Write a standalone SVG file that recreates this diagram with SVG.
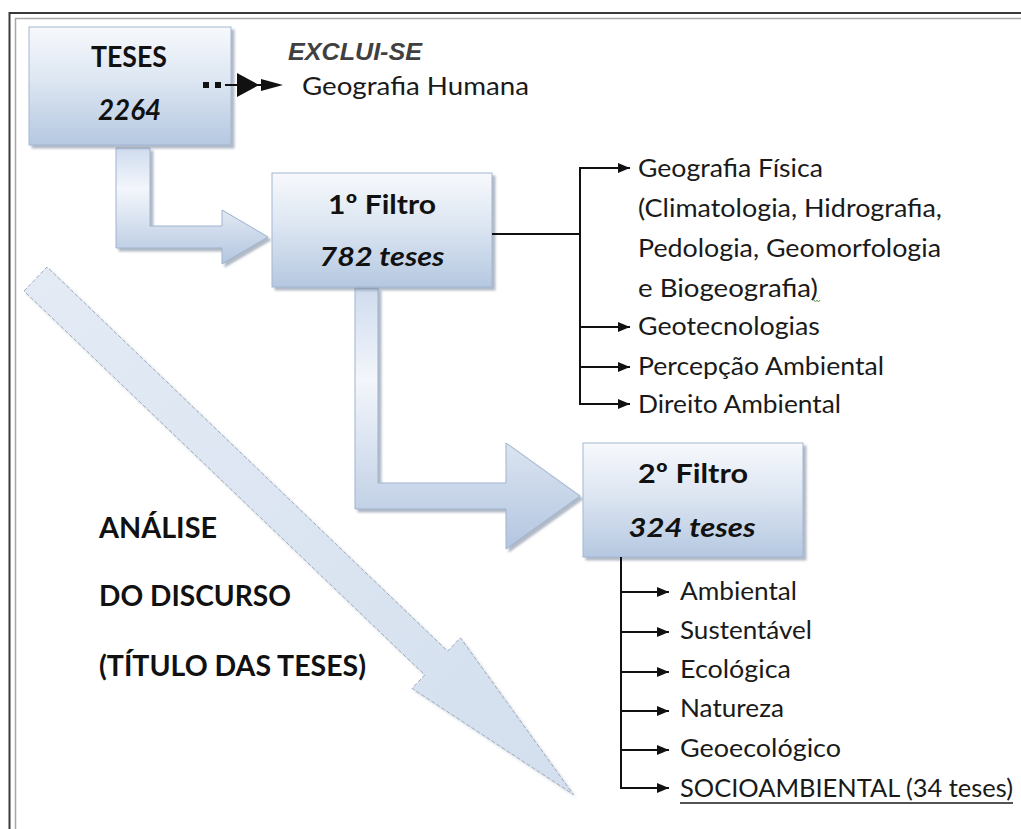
<svg xmlns="http://www.w3.org/2000/svg" width="1021" height="829" viewBox="0 0 1021 829">
  <defs>
    <linearGradient id="boxFill" x1="0" y1="0" x2="0" y2="1">
      <stop offset="0" stop-color="#f7f9fc"/>
      <stop offset="0.45" stop-color="#dde6f2"/>
      <stop offset="1" stop-color="#b5c8e1"/>
    </linearGradient>
    <linearGradient id="bentFill" x1="0" y1="0" x2="0" y2="1">
      <stop offset="0" stop-color="#cfdcee"/>
      <stop offset="0.35" stop-color="#f3f6fb"/>
      <stop offset="1" stop-color="#b3c6e0"/>
    </linearGradient>
    <linearGradient id="diagFill" x1="0" y1="0" x2="1" y2="1">
      <stop offset="0" stop-color="#e4ebf5"/>
      <stop offset="1" stop-color="#d3dfee"/>
    </linearGradient>
    <filter id="shadow" x="-10%" y="-10%" width="130%" height="130%">
      <feDropShadow dx="3" dy="3" stdDeviation="1.2" flood-color="#6f7f96" flood-opacity="0.55"/>
    </filter>
    <filter id="softShadow" x="-10%" y="-10%" width="130%" height="130%">
      <feDropShadow dx="2" dy="2" stdDeviation="1.5" flood-color="#8b98aa" flood-opacity="0.4"/>
    </filter>
    <marker id="tri" viewBox="0 0 12 10" refX="12" refY="5" markerWidth="12" markerHeight="10" markerUnits="userSpaceOnUse" orient="auto">
      <path d="M0,0 L12,5 L0,10 Z" fill="#111"/>
    </marker>
  </defs>
  <style>
    .box { fill: url(#boxFill); stroke: #a3b7d2; stroke-width: 1; filter: url(#shadow); }
    .bent { fill: url(#bentFill); stroke: #9fb3ce; stroke-width: 1; filter: url(#shadow); }
    .title { font-family: Lato, "Liberation Sans", sans-serif; font-weight: 700; fill: #111; }
    .count { font-family: Lato, "Liberation Sans", sans-serif; font-weight: 700; font-style: italic; fill: #111; }
    .item { font-family: Lato, "Liberation Sans", sans-serif; font-size: 25px; fill: #1a1a1a; }
    .label { font-family: Lato, "Liberation Sans", sans-serif; font-weight: 700; font-size: 28px; fill: #111; }
    .wire { stroke: #111; stroke-width: 2; fill: none; }
    .tip { stroke: #111; stroke-width: 2; fill: none; marker-end: url(#tri); }
  </style>

  <rect width="1021" height="829" fill="#ffffff"/>

  <!-- page frame (double rule, open to the right and bottom) -->
  <g id="frame" fill="none">
    <path d="M9.5,829 V13 H1021" stroke="#3a3a3a" stroke-width="2"/>
    <path d="M15.5,829 V18.5 H1021" stroke="#a8a8a8" stroke-width="1.5"/>
  </g>

  <!-- large diagonal arrow -->
  <g id="analise-arrow">
    <path d="M24,291 L47,267 L447.6,651.2 L460.4,637.8 L573.4,794.5 L412,688.4 L424.8,675 Z"
          fill="url(#diagFill)" stroke="#9eaabb" stroke-width="1" stroke-dasharray="4 2" filter="url(#softShadow)"/>
  </g>

  <!-- block arrows between stages -->
  <g id="bent-arrows">
    <path class="bent" d="M116,148 V248 H222 V264 L268,237 L222,210 V226 H150 V148 Z"/>
    <path class="bent" d="M355,288 V509 H506 V549 L580,496 L506,443 V483 H378 V288 Z"/>
  </g>

  <!-- stage boxes -->
  <g id="teses">
    <rect class="box" x="29" y="27" width="202" height="118"/>
    <text class="title" x="129" y="67" font-size="29" text-anchor="middle" textLength="76" lengthAdjust="spacingAndGlyphs">TESES</text>
    <text class="count" x="129.5" y="120" font-size="29" text-anchor="middle" textLength="63" lengthAdjust="spacingAndGlyphs">2264</text>
  </g>

  <g id="filtro1">
    <rect class="box" x="272" y="173" width="220" height="114"/>
    <text class="title" x="382" y="214" font-size="27" text-anchor="middle" textLength="108" lengthAdjust="spacingAndGlyphs">1º Filtro</text>
    <text class="count" x="382" y="266" font-size="27" text-anchor="middle" textLength="125" lengthAdjust="spacingAndGlyphs">782 teses</text>
  </g>

  <g id="filtro2">
    <rect class="box" x="583" y="443" width="220" height="114"/>
    <text class="title" x="693" y="483" font-size="27" text-anchor="middle" textLength="110" lengthAdjust="spacingAndGlyphs">2º Filtro</text>
    <text class="count" x="692" y="537" font-size="27" text-anchor="middle" textLength="127" lengthAdjust="spacingAndGlyphs">324 teses</text>
  </g>

  <!-- excluded branch -->
  <g id="excluido">
    <text x="288" y="60" font-family="'Liberation Sans', Arial, sans-serif" font-weight="700" font-style="italic" font-size="23" fill="#404040" textLength="134" lengthAdjust="spacingAndGlyphs">EXCLUI-SE</text>
    <text x="302" y="95" font-family="Lato, 'Liberation Sans', sans-serif" font-size="25" fill="#1a1a1a" textLength="227" lengthAdjust="spacingAndGlyphs">Geografia Humana</text>
  </g>

  <!-- connectors -->
  <g id="connectors">
    <!-- dotted double-head arrow to the excluded area -->
    <rect x="203" y="82" width="6" height="6" fill="#111"/>
    <rect x="215" y="82" width="6" height="6" fill="#111"/>
    <line x1="225" y1="85" x2="262" y2="85" stroke="#111" stroke-width="2"/>
    <path d="M237,73 L259,85 L237,97 Z" fill="#111"/>
    <path d="M261,79 L283,85 L261,91 Z" fill="#111"/>

    <!-- first filter branches -->
    <line class="wire" x1="492" y1="234" x2="580" y2="234" stroke-width="1.5"/>
    <line class="wire" x1="580" y1="167" x2="580" y2="405"/>
    <line class="tip" x1="579" y1="168" x2="630" y2="168"/>
    <line class="tip" x1="579" y1="327" x2="630" y2="327"/>
    <line class="tip" x1="579" y1="367" x2="630" y2="367"/>
    <line class="tip" x1="579" y1="404" x2="630" y2="404"/>

    <!-- second filter branches -->
    <line class="wire" x1="621" y1="557" x2="621" y2="789"/>
    <line class="tip" x1="620" y1="592" x2="669" y2="592"/>
    <line class="tip" x1="620" y1="632" x2="669" y2="632"/>
    <line class="tip" x1="620" y1="672" x2="669" y2="672"/>
    <line class="tip" x1="620" y1="711" x2="669" y2="711"/>
    <line class="tip" x1="620" y1="750" x2="669" y2="750"/>
    <line class="tip" x1="620" y1="788" x2="669" y2="788"/>
  </g>

  <!-- categories after the first filter -->
  <g id="lista-filtro1">
    <text class="item" x="638" y="177" textLength="185" lengthAdjust="spacingAndGlyphs">Geografia Física</text>
    <text class="item" x="638" y="217" textLength="304" lengthAdjust="spacingAndGlyphs">(Climatologia, Hidrografia,</text>
    <text class="item" x="638" y="257" textLength="303" lengthAdjust="spacingAndGlyphs">Pedologia, Geomorfologia</text>
    <text class="item" x="638" y="297" textLength="180" lengthAdjust="spacingAndGlyphs">e Biogeografia)</text>
    <path d="M814,300 l1.5,2 l1.5,-2 l1.5,2 l1.5,-2" fill="none" stroke="#6aa84f" stroke-width="1"/>
    <text class="item" x="638" y="335" textLength="182" lengthAdjust="spacingAndGlyphs">Geotecnologias</text>
    <text class="item" x="638" y="375" textLength="246" lengthAdjust="spacingAndGlyphs">Percepção Ambiental</text>
    <text class="item" x="638" y="413" textLength="203" lengthAdjust="spacingAndGlyphs">Direito Ambiental</text>
  </g>

  <!-- categories after the second filter -->
  <g id="lista-filtro2">
    <text class="item" x="680" y="600" textLength="117" lengthAdjust="spacingAndGlyphs">Ambiental</text>
    <text class="item" x="680" y="639" textLength="132" lengthAdjust="spacingAndGlyphs">Sustentável</text>
    <text class="item" x="680" y="678" textLength="111" lengthAdjust="spacingAndGlyphs">Ecológica</text>
    <text class="item" x="680" y="717" textLength="104" lengthAdjust="spacingAndGlyphs">Natureza</text>
    <text class="item" x="680" y="757" textLength="161" lengthAdjust="spacingAndGlyphs">Geoecológico</text>
    <text class="item" x="680" y="797" textLength="333" lengthAdjust="spacingAndGlyphs">SOCIOAMBIENTAL (34 teses)</text>
    <line x1="680" y1="803" x2="1013" y2="803" stroke="#1a1a1a" stroke-width="1.5"/>
  </g>

  <!-- side caption -->
  <g id="analise">
    <text class="label" x="99" y="538" textLength="118" lengthAdjust="spacingAndGlyphs">ANÁLISE</text>
    <text class="label" x="99" y="606" textLength="192" lengthAdjust="spacingAndGlyphs">DO DISCURSO</text>
    <text class="label" x="99" y="676" textLength="267" lengthAdjust="spacingAndGlyphs">(TÍTULO DAS TESES)</text>
  </g>
</svg>
